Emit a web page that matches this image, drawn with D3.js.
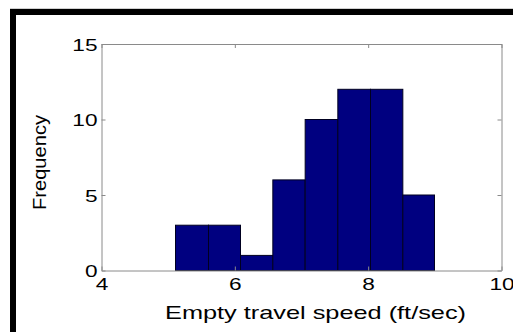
<!DOCTYPE html>
<html>
<head>
<meta charset="utf-8">
<script src="https://cdn.jsdelivr.net/npm/d3@7"></script>
<style>
  html, body { margin: 0; padding: 0; background: #fff; }
  svg { display: block; }
  text { font-family: "Liberation Sans", Arial, sans-serif; fill: #000; }
</style>
</head>
<body>
<svg id="chart" width="513" height="332"></svg>
<script>
// Histogram of empty travel speed
const binEdges = [5.11, 5.605, 6.085, 6.57, 7.055, 7.545, 8.035, 8.52, 8.995];
const counts = [3, 3, 1, 6, 10, 12, 12, 5];
const xTicks = [4, 6, 8, 10];
const yTicks = [0, 5, 10, 15];
const xDomain = [4, 10];
const yDomain = [0, 15];
const xLabel = "Empty travel speed (ft/sec)";
const yLabel = "Frequency";

const svg = d3.select("#chart");
const W = 513, H = 332;
const plotLeft = 101.5, plotRight = 501.5, plotTop = 44, plotBottom = 270.5;
const stretch = 1.35; // horizontal widening of the text glyphs

svg.append("rect").attr("width", W).attr("height", H).attr("fill", "#fff");

// outer frame (thick black edge on the left and top)
svg.append("line").attr("x1", 10).attr("x2", W).attr("y1", 8.5).attr("y2", 8.5)
  .attr("stroke", "#d0d0d0").attr("stroke-width", 1);
svg.append("rect").attr("x", 13).attr("y", 12).attr("width", W + 20).attr("height", H + 20)
  .attr("fill", "none").attr("stroke", "#000").attr("stroke-width", 6);

const x = d3.scaleLinear().domain(xDomain).range([plotLeft, plotRight]);
const y = d3.scaleLinear().domain(yDomain).range([plotBottom, plotTop]);

// bars
const bins = counts.map((c, i) => ({ x0: binEdges[i], x1: binEdges[i + 1], n: c }));
svg.append("g").selectAll("rect").data(bins).join("rect")
  .attr("x", d => x(d.x0))
  .attr("y", d => y(d.n))
  .attr("width", d => x(d.x1) - x(d.x0))
  .attr("height", d => y(0) - y(d.n))
  .attr("fill", "#000080")
  .attr("stroke", "#000020")
  .attr("stroke-width", 1);

const axisColor = "#8a8a8a";
function styleAxis(g) {
  g.select(".domain").attr("stroke", axisColor);
  g.selectAll(".tick line").attr("stroke", axisColor);
  g.selectAll(".tick text").attr("font-size", 16.8).attr("fill", "#000")
    .attr("font-family", "Liberation Sans, Arial, sans-serif")
    .each(function () {
      const w = this.getComputedTextLength();
      if (w > 0) {
        this.setAttribute("textLength", w * stretch);
        this.setAttribute("lengthAdjust", "spacingAndGlyphs");
      }
    });
}

// bottom axis with inward ticks
svg.append("g").attr("transform", `translate(0,${plotBottom})`)
  .call(d3.axisBottom(x).tickValues(xTicks).tickFormat(d3.format("d"))
    .tickSizeInner(-4).tickSizeOuter(0).tickPadding(8))
  .call(styleAxis);

// left axis
svg.append("g").attr("transform", `translate(${plotLeft},0)`)
  .call(d3.axisLeft(y).tickValues(yTicks).tickFormat(d3.format("d"))
    .tickSizeInner(-4).tickSizeOuter(0).tickPadding(4))
  .call(styleAxis)
  .selectAll(".tick text").attr("dy", "0.36em");

// top and right box edges with ticks
svg.append("g").attr("transform", `translate(0,${plotTop})`)
  .call(d3.axisTop(x).tickValues(xTicks).tickFormat("").tickSizeInner(-4).tickSizeOuter(0))
  .call(styleAxis);
svg.append("g").attr("transform", `translate(${plotRight},0)`)
  .call(d3.axisRight(y).tickValues(yTicks).tickFormat("").tickSizeInner(-4).tickSizeOuter(0))
  .call(styleAxis);

// axis titles
svg.append("text")
  .attr("x", 165).attr("y", 319.3)
  .attr("font-size", 18.6)
  .attr("textLength", 301).attr("lengthAdjust", "spacingAndGlyphs")
  .text(xLabel);

svg.append("text")
  .attr("transform", "translate(46,162.5) rotate(-90)")
  .attr("text-anchor", "middle")
  .attr("font-size", 17.7)
  .attr("textLength", 95).attr("lengthAdjust", "spacingAndGlyphs")
  .text(yLabel);
</script>
</body>
</html>
